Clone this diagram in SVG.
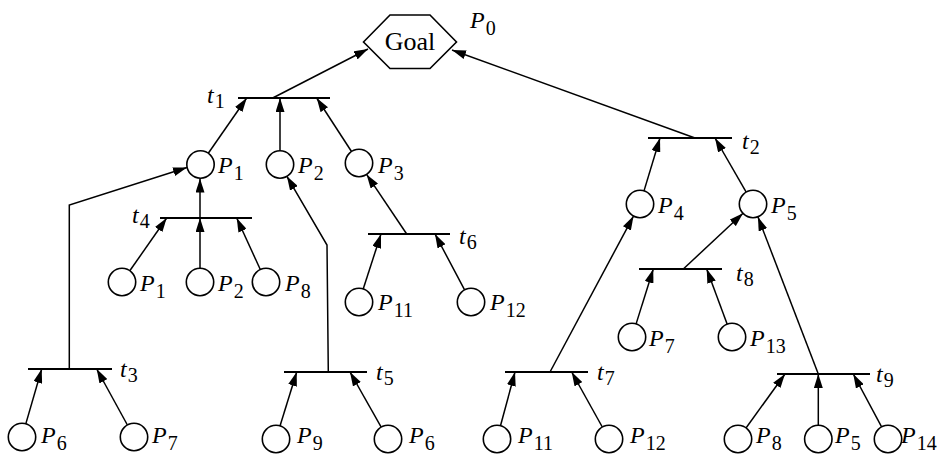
<svg xmlns="http://www.w3.org/2000/svg" width="940" height="456" viewBox="0 0 940 456">
<style>
.pl{fill:#fff;stroke:#000;stroke-width:1.6}
.bar{stroke:#000;stroke-width:1.8}
.e{fill:none;stroke:#000;stroke-width:1.5}
.a{marker-end:url(#ah)}
text{font-family:"Liberation Serif","Times New Roman",serif;fill:#000}
.lab{font-size:24px;font-style:italic}
.sub{font-size:20px;font-style:normal}
.goal{font-size:26px;text-anchor:middle}
</style>
<defs>
<marker id="ah" viewBox="0 0 14 9" refX="14" refY="4.5" markerWidth="14" markerHeight="9" markerUnits="userSpaceOnUse" orient="auto"><path d="M0,0 L14,4.5 L0,9 z" fill="#000"/></marker>
</defs>
<rect width="940" height="456" fill="#fff"/>

<g id="connectors">
<line class="e a" x1="272.7" y1="98" x2="368" y2="49"/>
<line class="e a" x1="695" y1="138" x2="452" y2="50"/>
<line class="e a" x1="208.3" y1="153.2" x2="246.7" y2="98"/>
<line class="e a" x1="280" y1="150.5" x2="280" y2="98"/>
<line class="e a" x1="351.5" y1="151.5" x2="316.7" y2="98"/>
<line class="e a" x1="644" y1="190.9" x2="660" y2="138"/>
<line class="e a" x1="746.2" y1="192.1" x2="715" y2="138"/>
<line class="e a" x1="200" y1="218" x2="200" y2="178.5"/>
<line class="e a" x1="129.8" y1="270.8" x2="166.7" y2="218"/>
<line class="e a" x1="200" y1="268.3" x2="200" y2="218"/>
<line class="e a" x1="260.3" y1="269.5" x2="236.7" y2="218"/>
<polyline class="e a" points="69.3,369 69.3,205 187,167.5"/>
<polyline class="e a" points="328.3,372 327,245 286.9,176.3"/>
<line class="e a" x1="406.7" y1="234" x2="366.6" y2="174.4"/>
<line class="e a" x1="363.2" y1="289" x2="381" y2="234"/>
<line class="e a" x1="464.6" y1="289.9" x2="435" y2="234"/>
<line class="e a" x1="683.3" y1="269" x2="743" y2="213.3"/>
<line class="e a" x1="636.1" y1="323.9" x2="653.3" y2="269"/>
<line class="e a" x1="727.2" y1="324.2" x2="706.7" y2="269"/>
<line class="e a" x1="25.8" y1="423.9" x2="41.7" y2="369"/>
<line class="e a" x1="127.4" y1="425" x2="96.7" y2="369"/>
<line class="e a" x1="280" y1="426" x2="296.7" y2="372"/>
<line class="e a" x1="381.2" y1="427.1" x2="350" y2="372"/>
<line class="e a" x1="550" y1="372" x2="633.5" y2="216.1"/>
<line class="e a" x1="500.5" y1="425.8" x2="515" y2="372"/>
<line class="e a" x1="602.3" y1="427" x2="571.7" y2="372"/>
<line class="e a" x1="818.3" y1="374" x2="757.9" y2="216.8"/>
<line class="e a" x1="746" y1="428" x2="785" y2="374"/>
<line class="e a" x1="818.3" y1="425.3" x2="818.3" y2="374"/>
<line class="e a" x1="881.6" y1="426.9" x2="853.3" y2="374"/>
</g>

<g id="goal">
<polygon class="pl" points="363.5,42 390,15 430,15 456.5,42 430,68.5 390,68.5"/>
<text class="goal" x="410" y="50">Goal</text>
<text class="lab" x="470" y="28">P<tspan class="sub" dx="1" dy="7">0</tspan></text>
</g>

<g id="t1"><line class="bar" x1="238" y1="98" x2="330" y2="98"/><text class="lab" x="207" y="103">t<tspan class="sub" dx="1" dy="5">1</tspan></text></g>
<g id="t2"><line class="bar" x1="648" y1="138" x2="732" y2="138"/><text class="lab" x="742" y="149">t<tspan class="sub" dx="1" dy="5">2</tspan></text></g>
<g id="t3"><line class="bar" x1="28" y1="369" x2="112" y2="369"/><text class="lab" x="120" y="377">t<tspan class="sub" dx="1" dy="5">3</tspan></text></g>
<g id="t4"><line class="bar" x1="160" y1="218" x2="252" y2="218"/><text class="lab" x="132" y="223">t<tspan class="sub" dx="1" dy="5">4</tspan></text></g>
<g id="t5"><line class="bar" x1="284" y1="372" x2="367" y2="372"/><text class="lab" x="376" y="380">t<tspan class="sub" dx="1" dy="5">5</tspan></text></g>
<g id="t6"><line class="bar" x1="368" y1="234" x2="450" y2="234"/><text class="lab" x="459" y="244">t<tspan class="sub" dx="1" dy="5">6</tspan></text></g>
<g id="t7"><line class="bar" x1="505" y1="372" x2="588" y2="372"/><text class="lab" x="597" y="380">t<tspan class="sub" dx="1" dy="5">7</tspan></text></g>
<g id="t8"><line class="bar" x1="639" y1="269" x2="722" y2="269"/><text class="lab" x="736" y="281">t<tspan class="sub" dx="1" dy="5">8</tspan></text></g>
<g id="t9"><line class="bar" x1="777" y1="374" x2="870" y2="374"/><text class="lab" x="876" y="382">t<tspan class="sub" dx="1" dy="5">9</tspan></text></g>

<g id="p1a"><circle class="pl" cx="200.5" cy="164.5" r="13.7"/><text class="lab" x="218" y="173">P<tspan class="sub" dx="1" dy="7">1</tspan></text></g>
<g id="p2a"><circle class="pl" cx="280" cy="164.5" r="13.7"/><text class="lab" x="298" y="173">P<tspan class="sub" dx="1" dy="7">2</tspan></text></g>
<g id="p3"><circle class="pl" cx="359" cy="163" r="13.7"/><text class="lab" x="378" y="173">P<tspan class="sub" dx="1" dy="7">3</tspan></text></g>
<g id="p1b"><circle class="pl" cx="122" cy="282" r="13.7"/><text class="lab" x="140" y="291">P<tspan class="sub" dx="1" dy="7">1</tspan></text></g>
<g id="p2b"><circle class="pl" cx="200" cy="282" r="13.7"/><text class="lab" x="218" y="291">P<tspan class="sub" dx="1" dy="7">2</tspan></text></g>
<g id="p8a"><circle class="pl" cx="266" cy="282" r="13.7"/><text class="lab" x="285" y="291">P<tspan class="sub" dx="1" dy="7">8</tspan></text></g>
<g id="p11a"><circle class="pl" cx="359" cy="302" r="13.7"/><text class="lab" x="378" y="310">P<tspan class="sub" dx="1" dy="7">11</tspan></text></g>
<g id="p12a"><circle class="pl" cx="471" cy="302" r="13.7"/><text class="lab" x="490" y="310">P<tspan class="sub" dx="1" dy="7">12</tspan></text></g>
<g id="p4"><circle class="pl" cx="640" cy="204" r="13.7"/><text class="lab" x="658" y="213">P<tspan class="sub" dx="1" dy="7">4</tspan></text></g>
<g id="p5a"><circle class="pl" cx="753" cy="204" r="13.7"/><text class="lab" x="771" y="213">P<tspan class="sub" dx="1" dy="7">5</tspan></text></g>
<g id="p7a"><circle class="pl" cx="632" cy="337" r="13.7"/><text class="lab" x="649" y="346">P<tspan class="sub" dx="1" dy="7">7</tspan></text></g>
<g id="p13"><circle class="pl" cx="732" cy="337" r="13.7"/><text class="lab" x="750" y="346">P<tspan class="sub" dx="1" dy="7">13</tspan></text></g>
<g id="p6a"><circle class="pl" cx="22" cy="437" r="13.7"/><text class="lab" x="41" y="443">P<tspan class="sub" dx="1" dy="7">6</tspan></text></g>
<g id="p7b"><circle class="pl" cx="134" cy="437" r="13.7"/><text class="lab" x="152" y="443">P<tspan class="sub" dx="1" dy="7">7</tspan></text></g>
<g id="p9"><circle class="pl" cx="276" cy="439" r="13.7"/><text class="lab" x="297" y="443">P<tspan class="sub" dx="1" dy="7">9</tspan></text></g>
<g id="p6b"><circle class="pl" cx="388" cy="439" r="13.7"/><text class="lab" x="409" y="443">P<tspan class="sub" dx="1" dy="7">6</tspan></text></g>
<g id="p11b"><circle class="pl" cx="497" cy="439" r="13.7"/><text class="lab" x="518" y="443">P<tspan class="sub" dx="1" dy="7">11</tspan></text></g>
<g id="p12b"><circle class="pl" cx="609" cy="439" r="13.7"/><text class="lab" x="630" y="443">P<tspan class="sub" dx="1" dy="7">12</tspan></text></g>
<g id="p8b"><circle class="pl" cx="738" cy="439" r="13.7"/><text class="lab" x="756" y="443">P<tspan class="sub" dx="1" dy="7">8</tspan></text></g>
<g id="p5b"><circle class="pl" cx="818.3" cy="439" r="13.7"/><text class="lab" x="835" y="443">P<tspan class="sub" dx="1" dy="7">5</tspan></text></g>
<g id="p14"><circle class="pl" cx="888" cy="439" r="13.7"/><text class="lab" x="901" y="443">P<tspan class="sub" dx="1" dy="7">14</tspan></text></g>
</svg>
